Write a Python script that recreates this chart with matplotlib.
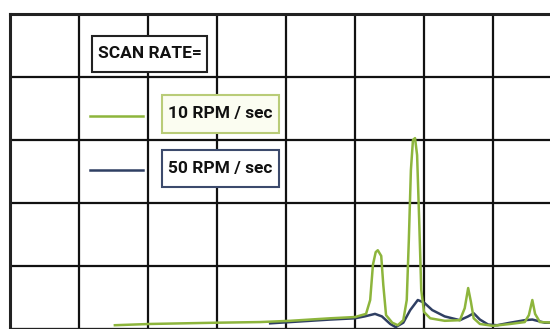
import matplotlib.pyplot as plt
from matplotlib.patches import Rectangle

# green trace (10 RPM / sec), x in grid columns, y in grid rows
slow_x = [1.52, 2.03, 3.0, 3.62, 4.06, 4.64, 5.0, 5.16, 5.22, 5.26, 5.30, 5.33, 5.38,
          5.41, 5.45, 5.54, 5.62, 5.70, 5.75, 5.78, 5.81, 5.84, 5.87, 5.90, 5.93,
          5.96, 6.0, 6.09, 6.30, 6.52, 6.59, 6.64, 6.68, 6.72, 6.81, 7.0, 7.25,
          7.46, 7.52, 7.57, 7.61, 7.68, 7.90]
slow_y = [0.06, 0.08, 0.10, 0.11, 0.13, 0.17, 0.19, 0.24, 0.46, 1.02, 1.22, 1.25, 1.16,
          0.70, 0.22, 0.10, 0.06, 0.14, 0.46, 1.41, 2.52, 3.0, 3.03, 2.76, 1.73,
          0.62, 0.27, 0.17, 0.13, 0.14, 0.33, 0.65, 0.43, 0.17, 0.08, 0.05, 0.08,
          0.11, 0.22, 0.46, 0.24, 0.11, 0.10]

# dark blue trace (50 RPM / sec)
fast_x = [3.77, 4.06, 4.64, 5.0, 5.14, 5.29, 5.39, 5.51, 5.59, 5.70, 5.80, 5.91, 6.0,
          6.12, 6.30, 6.52, 6.64, 6.72, 6.81, 6.93, 7.06, 7.25, 7.46, 7.57, 7.75, 7.9]
fast_y = [0.09, 0.11, 0.15, 0.17, 0.20, 0.24, 0.20, 0.08, 0.03, 0.10, 0.30, 0.46, 0.42,
          0.30, 0.20, 0.14, 0.20, 0.25, 0.15, 0.07, 0.06, 0.10, 0.14, 0.15, 0.10, 0.10]

title_text = "SCAN RATE="
labels = ["10 RPM / sec", "50 RPM / sec"]

green = "#8db53c"
navy = "#2f3f63"

fig = plt.figure(figsize=(5.5, 3.29), dpi=100)
fig.patch.set_facecolor("white")
# axes run past the right and bottom edge of the figure
ax = fig.add_axes([10 / 550, 0.0, 552 / 550, 315 / 329])
ax.set_xlim(0, 8)
ax.set_ylim(0, 5)
ax.set_xticks(range(9))
ax.set_yticks(range(6))
ax.tick_params(length=0, labelbottom=False, labelleft=False)
ax.grid(True, color="#111111", linewidth=1.6)
for s in ax.spines.values():
    s.set_color("#222222")
    s.set_linewidth(2.2)

ax.plot(fast_x, fast_y, color=navy, linewidth=1.8, zorder=3)
ax.plot(slow_x, slow_y, color=green, linewidth=1.8, zorder=4)

# legend built by hand: framed labels and short line samples
font = dict(family=["Roboto", "DejaVu Sans"], fontweight="bold")

def px(x, y):
    return (x - 10) / 69, (329 - y) / 63

def label_box(x0, y0, x1, y1, text, edge, face, size):
    a = px(x0, y1)
    b = px(x1, y0)
    ax.add_patch(Rectangle(a, b[0] - a[0], b[1] - a[1], facecolor=face,
                           edgecolor=edge, linewidth=1.5, zorder=5))
    ax.text((a[0] + b[0]) / 2, (a[1] + b[1]) / 2, text, ha="center", va="center",
            fontsize=size, color="#111111", zorder=6, **font)

label_box(92, 36, 207, 72, title_text, "#222222", "white", 12.5)
label_box(162, 95, 279, 133, labels[0], "#b9cc78", "#fbfdf1", 12.5)
label_box(162, 150, 279, 187, labels[1], "#3c4a6c", "white", 12.5)

for yy, c in [(116, green), (170, navy)]:
    a = px(90, yy)
    b = px(143, yy)
    ax.plot([a[0], b[0]], [a[1], b[1]], color=c, linewidth=1.8, zorder=5)

fig.savefig("out.png", dpi=100)
